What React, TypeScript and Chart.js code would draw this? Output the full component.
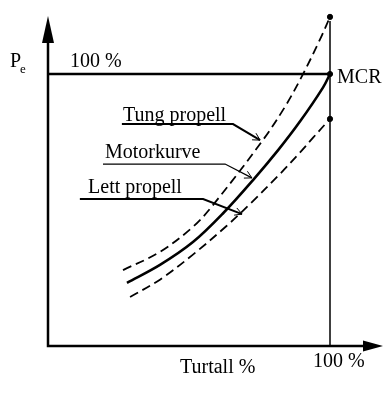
import React, { useEffect, useRef } from "react";
import { Chart, registerables } from "chart.js";

Chart.register(...registerables);

// Series (x = Turtall %, y = Pe %)
const motorX = [28, 39.7, 51.4, 62.1, 72.7, 81.6, 89.4, 97.5, 100];
const motorY = [23.2, 29.8, 38.2, 48.8, 61.0, 72.0, 82.6, 95.0, 100];

const tungX = [26.6, 39.7, 51.4, 58.5, 76.2, 84.0, 90.1, 96.5, 100];
const tungY = [27.9, 34.6, 43.8, 51.8, 75.7, 87.9, 99.3, 112.8, 121];

const lettX = [29.1, 39.7, 51.4, 63.5, 72.0, 82.3, 89.4, 94.0, 100];
const lettY = [18.0, 24.4, 33.6, 44.3, 52.6, 63.3, 71.2, 76.6, 83.5];

// Reference lines
const mcrLineX = [0, 100];
const mcrLineY = [100, 100];
const rpmLineX = [100, 100];
const rpmLineY = [0, 119.5];

// Leader lines for labels
const leaderTungX = [26.2, 65.6, 75.2];
const leaderTungY = [81.6, 81.6, 75.7];
const leaderMotorX = [19.5, 62.8, 72.3];
const leaderMotorY = [66.9, 66.9, 61.8];
const leaderLettX = [11.3, 55.0, 68.8];
const leaderLettY = [54.0, 54.0, 48.5];

const seriesLabels = ["Tung propell", "Motorkurve", "Lett propell"];
const axisYLabel = "P";
const axisYSub = "e";
const axisXLabel = "Turtall %";
const hundred = "100 %";
const mcrLabel = "MCR";

const xMax = 119;
const yMax = 122;

const pts = (xs: number[], ys: number[]) => xs.map((x, i) => ({ x, y: ys[i] }));
const endDot = (n: number) => Array.from({ length: n }, (_, i) => (i === n - 1 ? 2.6 : 0));

export default function App() {
  const ref = useRef<HTMLCanvasElement | null>(null);

  useEffect(() => {
    if (!ref.current) return;
    const font = "'Liberation Serif', 'Times New Roman', serif";

    const decor = {
      id: "decor",
      beforeDatasetsDraw(chart: any) {
        const { ctx, scales } = chart;
        const xs = scales.x, ys = scales.y;
        const X = (v: number) => xs.getPixelForValue(v);
        const Y = (v: number) => ys.getPixelForValue(v);
        ctx.save();
        ctx.strokeStyle = "#000";
        ctx.fillStyle = "#000";
        ctx.lineWidth = 2.5;
        const ox = X(0), oy = Y(0);
        const yTip = Y(121.3), xTip = X(118.8);
        ctx.beginPath();
        ctx.moveTo(ox, oy);
        ctx.lineTo(ox, yTip + 20);
        ctx.moveTo(ox - 1.25, oy);
        ctx.lineTo(xTip - 15, oy);
        ctx.stroke();
        ctx.beginPath();
        ctx.moveTo(ox, yTip);
        ctx.lineTo(ox - 6, yTip + 27);
        ctx.lineTo(ox + 6, yTip + 27);
        ctx.closePath();
        ctx.fill();
        ctx.beginPath();
        ctx.moveTo(xTip, oy);
        ctx.lineTo(xTip - 20, oy - 5.5);
        ctx.lineTo(xTip - 20, oy + 5.5);
        ctx.closePath();
        ctx.fill();
        ctx.restore();
      },
      afterDatasetsDraw(chart: any) {
        const { ctx, scales } = chart;
        const xs = scales.x, ys = scales.y;
        const X = (v: number) => xs.getPixelForValue(v);
        const Y = (v: number) => ys.getPixelForValue(v);
        ctx.save();
        ctx.strokeStyle = "#000";
        ctx.fillStyle = "#000";
        ctx.lineWidth = 1;
        const leaders = [
          [leaderTungX, leaderTungY],
          [leaderMotorX, leaderMotorY],
          [leaderLettX, leaderLettY],
        ];
        leaders.forEach(([lx, ly]) => {
          const n = lx.length;
          const x1 = X(lx[n - 2]), y1 = Y(ly[n - 2]);
          const x2 = X(lx[n - 1]), y2 = Y(ly[n - 1]);
          const a = Math.atan2(y2 - y1, x2 - x1);
          const L = 8;
          ctx.beginPath();
          ctx.moveTo(x2 - L * Math.cos(a - 0.5), y2 - L * Math.sin(a - 0.5));
          ctx.lineTo(x2, y2);
          ctx.lineTo(x2 - L * Math.cos(a + 0.5), y2 - L * Math.sin(a + 0.5));
          ctx.stroke();
        });
        ctx.textBaseline = "alphabetic";
        ctx.textAlign = "left";
        ctx.font = `20px ${font}`;
        ctx.fillText(seriesLabels[0], X(26.6), Y(82.7));
        ctx.fillText(seriesLabels[1], X(20.2), Y(69.1));
        ctx.fillText(seriesLabels[2], X(14.2), Y(56.25));
        ctx.fillText(hundred, X(7.8), Y(102.6));
        ctx.fillText(mcrLabel, X(102.5), Y(96.7));
        ctx.fillText(axisXLabel, X(46.8), Y(-9.9));
        ctx.fillText(hundred, X(94.0), Y(-7.7));
        ctx.fillText(axisYLabel, X(-13.5), Y(102.6));
        ctx.font = `13px ${font}`;
        ctx.fillText(axisYSub, X(-9.9), Y(100.2));
        ctx.restore();
      },
    };

    const line = (xs: number[], ys: number[], w: number, dash: number[] = []) => ({
      type: "line" as const,
      data: pts(xs, ys),
      borderColor: "#000",
      borderWidth: w,
      borderDash: dash,
      pointRadius: 0,
      tension: 0,
      clip: false as any,
    });

    const curve = (xs: number[], ys: number[], w: number, dash: number[] = []) => ({
      type: "line" as const,
      data: pts(xs, ys),
      borderColor: "#000",
      borderWidth: w,
      borderDash: dash,
      tension: 0.35,
      pointRadius: endDot(xs.length),
      pointBackgroundColor: "#000",
      pointBorderColor: "#000",
      pointBorderWidth: 1,
      clip: false as any,
    });

    const chart = new Chart(ref.current, {
      type: "line",
      data: {
        datasets: [
          line(mcrLineX, mcrLineY, 2.5),
          line(rpmLineX, rpmLineY, 1.5),
          line(leaderTungX, leaderTungY, 2),
          line(leaderMotorX, leaderMotorY, 1.2),
          line(leaderLettX, leaderLettY, 2),
          curve(tungX, tungY, 1.8, [9, 5]),
          curve(motorX, motorY, 2.6),
          curve(lettX, lettY, 1.8, [9, 5]),
        ] as any,
      },
      options: {
        animation: false,
        responsive: false,
        devicePixelRatio: 1,
        layout: { padding: { left: 48, right: 392 - 48 - xMax * 2.82, top: 346 - yMax * 2.72, bottom: 73 } },
        plugins: { legend: { display: false }, tooltip: { enabled: false } },
        scales: {
          x: { type: "linear", min: 0, max: xMax, display: false },
          y: { type: "linear", min: 0, max: yMax, display: false },
        },
      },
      plugins: [decor],
    });
    return () => chart.destroy();
  }, []);

  return (
    <div style={{ position: "fixed", left: 0, top: 0, width: 392, height: 419, background: "#fff" }}>
      <canvas ref={ref} width={392} height={419} />
    </div>
  );
}
